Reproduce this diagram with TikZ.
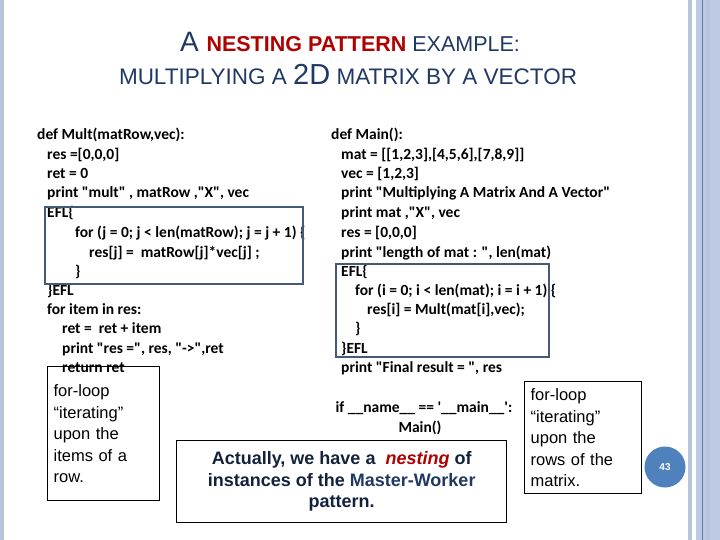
\documentclass[tikz,border=0pt]{standalone}
\usepackage{fontspec}
\setmainfont{Liberation Sans}
\newfontfamily\codefont{Carlito}
\usetikzlibrary{positioning}
\definecolor{titleblue}{RGB}{31,56,100}
\definecolor{titlered}{RGB}{176,0,0}
\definecolor{efl}{RGB}{68,90,120}
\definecolor{stripe}{RGB}{184,196,218}
\definecolor{stripelt}{RGB}{190,202,228}
\definecolor{pagedot}{RGB}{79,129,189}

\begin{document}
\begin{tikzpicture}[
  x=1pt, y=-1pt,
  code/.style={anchor=base west, inner sep=0pt, font=\codefont\bfseries\fontsize{15.5}{18}\selectfont},
  eflbox/.style={draw=efl, line width=2.2pt},
  note/.style={draw=black, line width=1.3pt, align=left, inner sep=5pt, font=\fontsize{16.5}{21.5}\selectfont}
]
\useasboundingbox (0,0) rectangle (720,540);
% side stripes
\fill[stripe] (0,0) rectangle (4,540);
\fill[stripe] (688,0) rectangle (692,540);
\fill[stripelt] (696,0) rectangle (720,540);
\fill[stripe] (706,0) rectangle (710,540);
\draw[pagedot, line width=0.8pt] (702,0) -- (702,540);
% title
\node[anchor=base, text=titleblue, font=\fontsize{28}{30}\selectfont] (t1) at (350,52)
  {A {\fontsize{21.5}{24}\selectfont\textcolor{titlered}{\bfseries NESTING PATTERN} EXAMPLE:}};
\node[anchor=base, text=titleblue, font=\fontsize{22.5}{24}\selectfont] (t2) at (348,85)
  {MULTIPLYING A {\fontsize{29}{30}\selectfont 2D} MATRIX BY A VECTOR};
% Mult code
\foreach \xx/\yy/\txt [count=\k] in {
  37/140/{def Mult(matRow,vec):},
  47/160/{res =[0,0,0]},
  47/179/{ret = 0},
  47/198/{print "mult" , matRow ,"X", vec},
  47/218/{EFL\{},
  75/237/{for (j = 0; j < len(matRow); j = j + 1) \{},
  89/257/{res[j] =\ \ matRow[j]*vec[j] ;},
  75/276/{\}},
  47/295/{\}EFL},
  47/314/{for item in res:},
  62/333/{ret =\ \ ret + item},
  62/353/{print "res =", res, "->",ret},
  62/372/{return ret}}
  \node[code] (m\k) at (\xx,\yy) {\txt};
% Main code
\foreach \xx/\yy/\txt [count=\k] in {
  331/140/{def Main():},
  341/160/{mat = [[1,2,3],[4,5,6],[7,8,9]]},
  341/179/{vec = [1,2,3]},
  341/198/{print "Multiplying A Matrix And A Vector"},
  341/218/{print mat ,"X", vec},
  341/237/{res = [0,0,0]},
  341/257/{print "length of mat : ", len(mat)},
  341/276/{EFL\{},
  355/295/{for (i = 0; i < len(mat); i = i + 1) \{},
  367/314/{res[i] = Mult(mat[i],vec);},
  355/333/{\}},
  341/353/{\}EFL},
  341/372/{print "Final result = ", res}}
  \node[code] (n\k) at (\xx,\yy) {\txt};
\node[code, anchor=base] (ifmain) at (424,412) {if \_\_name\_\_ == '\_\_main\_\_':};
\node[code, anchor=base] (callmain) at (420,432) {Main()};
% EFL frames
\draw[eflbox] (45,207) rectangle (303,284);
\draw[eflbox] (336,264) rectangle (549,357);
% notes
\node[note, minimum width=112pt, minimum height=134pt, anchor=north west, text width=100pt] (rownote) at (47,366)
  {for-loop\\``iterating''\\upon the\\items of a\\row.};
\node[note, minimum width=117pt, minimum height=112pt, anchor=north west, text width=105pt] (matnote) at (524,381)
  {for-loop\\``iterating''\\upon the\\rows of the\\matrix.};
\node[note, align=center, minimum width=330pt, minimum height=82pt, anchor=north west, text=titleblue!60!black,
      font=\bfseries\fontsize{18}{21.5}\selectfont] (nestnote) at (176,440)
  {Actually, we have a\ \ \textcolor{titlered}{\itshape nesting} of\\instances of the \textcolor{titleblue}{Master-Worker}\\pattern.};
% page number
\node[circle, fill=pagedot, minimum size=41pt, inner sep=0pt, text=white, font=\bfseries\fontsize{10}{12}\selectfont] (pg) at (665,467) {43};
\end{tikzpicture}
\end{document}
